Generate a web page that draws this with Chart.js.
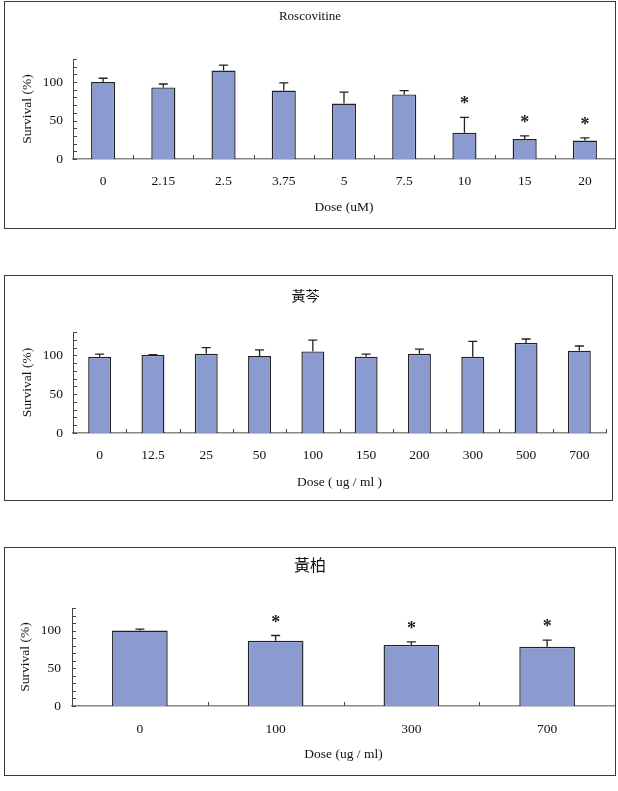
<!DOCTYPE html>
<html>
<head>
<meta charset="utf-8">
<script src="https://cdn.jsdelivr.net/npm/chart.js@4.4.1/dist/chart.umd.min.js"></script>
<style>
  body { margin: 0; background: #fff; width: 618px; height: 791px; position: relative; overflow: hidden; }
  .panel { position: absolute; border: 1.5px solid #3a3a3a; box-sizing: border-box; }
  canvas { position: absolute; }
</style>
</head>
<body>
<div class="panel" style="left:4px;top:1px;width:612px;height:228px"></div>
<canvas id="chart1" width="610" height="226" style="left:5px;top:2px"></canvas>

<div class="panel" style="left:4px;top:275px;width:609px;height:226px"></div>
<canvas id="chart2" width="607" height="224" style="left:5px;top:276px"></canvas>

<div class="panel" style="left:4px;top:547px;width:612px;height:229px"></div>
<canvas id="chart3" width="610" height="227" style="left:5px;top:548px"></canvas>

<script>
// Roscovitine
const dose1 = ['0', '2.15', '2.5', '3.75', '5', '7.5', '10', '15', '20'];
const surv1 = [100, 93, 115, 89, 72, 84, 34, 26, 24];
const err1  = [5, 4.5, 7, 10, 15, 5, 20, 4, 3.5];
const star1 = [false, false, false, false, false, false, true, true, true];

// 黃芩
const dose2 = ['0', '12.5', '25', '50', '100', '150', '200', '300', '500', '700'];
const surv2 = [98, 100.5, 102, 99, 105, 98, 102, 98, 116, 106];
const err2  = [3.5, 0.5, 8, 8, 14.5, 3.5, 6, 20, 5, 6];
const star2 = [false, false, false, false, false, false, false, false, false, false];

// 黃柏
const dose3 = ['0', '100', '300', '700'];
const surv3 = [100, 86.5, 81, 78.5];
const err3  = [2, 7, 4, 9];
const star3 = [false, true, true, true];

const yTicks = { min: 0, max: 130, step: 10, labelEvery: 50 };

const serif = '"Liberation Serif", "Times New Roman", serif';
const cjk = '"Noto Sans CJK TC", "Noto Sans CJK SC", sans-serif';
const barFill = '#8b9bd0';
const ink = '#222';
const textColor = '#111';

// upper error bars + asterisks
const errorBars = {
    id: 'errorBars',
    afterDatasetsDraw(chart, args, opts) {
        const { ctx } = chart;
        const y = chart.scales.y;
        const values = chart.data.datasets[0].data;
        const meta = chart.getDatasetMeta(0);
        ctx.save();
        ctx.strokeStyle = ink;
        ctx.lineWidth = 1.3;
        meta.data.forEach((bar, i) => {
            const top = y.getPixelForValue(values[i] + opts.errors[i]);
            ctx.beginPath();
            ctx.moveTo(bar.x, bar.y);
            ctx.lineTo(bar.x, top);
            ctx.moveTo(bar.x - 4.5, top);
            ctx.lineTo(bar.x + 4.5, top);
            ctx.stroke();
            if (opts.stars[i]) {
                ctx.fillStyle = ink;
                ctx.font = 'bold 18px ' + serif;
                ctx.textAlign = 'center';
                ctx.textBaseline = 'alphabetic';
                ctx.fillText('*', bar.x, top - 8);
            }
        });
        ctx.restore();
    }
};

// Excel-style tick marks pointing into the plot
const insideTicks = {
    id: 'insideTicks',
    afterDraw(chart) {
        const { ctx } = chart;
        const { x, y } = chart.scales;
        ctx.save();
        ctx.strokeStyle = '#444';
        ctx.lineWidth = 1;
        ctx.beginPath();
        y.ticks.forEach(t => {
            const py = Math.round(y.getPixelForValue(t.value)) + 0.5;
            ctx.moveTo(y.right, py);
            ctx.lineTo(y.right + 4, py);
        });
        for (let i = 1; i <= chart.data.labels.length; i++) {
            const px = Math.round(x.getPixelForValue(i - 0.5)) + 0.5;
            ctx.moveTo(px, x.top);
            ctx.lineTo(px, x.top - 4);
        }
        ctx.stroke();
        ctx.restore();
    }
};

function makeChart(id, labels, values, errors, stars, L) {
    const ctx = document.getElementById(id).getContext('2d');
    return new Chart(ctx, {
        type: 'bar',
        data: {
            labels: labels,
            datasets: [{
                data: values,
                backgroundColor: barFill,
                borderColor: ink,
                borderWidth: 1.4,
                barPercentage: L.barPct,
                categoryPercentage: 1
            }]
        },
        options: {
            responsive: false,
            animation: false,
            layout: { padding: { top: 0, left: 0, right: L.padRight, bottom: 0 } },
            plugins: {
                legend: { display: false },
                tooltip: { enabled: false },
                title: {
                    display: true,
                    text: L.title,
                    color: textColor,
                    font: { family: L.titleFamily, size: L.titleSize, weight: 'normal', lineHeight: 1.2 },
                    padding: { top: L.titleTop, bottom: L.titleBottom }
                },
                errorBars: { errors: errors, stars: stars }
            },
            scales: {
                x: {
                    offset: true,
                    grid: { display: false, drawTicks: false },
                    border: { color: '#888', width: 1.6 },
                    ticks: {
                        color: textColor,
                        font: { family: serif, size: 13.5, lineHeight: 1.2 },
                        padding: L.xTickPad,
                        maxRotation: 0,
                        autoSkip: false
                    },
                    title: {
                        display: true,
                        text: L.xTitle,
                        color: textColor,
                        font: { family: serif, size: 13.5, lineHeight: 1.2 },
                        padding: { top: 0, bottom: L.xTitlePad }
                    },
                    afterFit: s => { s.height = L.xH; }
                },
                y: {
                    min: yTicks.min,
                    max: yTicks.max,
                    grid: { display: false, drawTicks: false },
                    border: { color: '#444', width: 1 },
                    ticks: {
                        stepSize: yTicks.step,
                        autoSkip: false,
                        color: textColor,
                        font: { family: serif, size: 13.5, lineHeight: 1.2 },
                        padding: L.yTickPad,
                        callback: v => (v % yTicks.labelEvery === 0 ? v : '')
                    },
                    title: {
                        display: true,
                        text: 'Survival (%)',
                        color: textColor,
                        font: { family: serif, size: 13.5, lineHeight: 1.2 },
                        padding: { top: L.yTitlePad, bottom: 0 }
                    },
                    afterFit: s => { s.width = L.yW; }
                }
            }
        },
        plugins: [errorBars, insideTicks]
    });
}

window.onload = () => {
    makeChart('chart1', dose1, surv1, err1, star1, {
        title: 'Roscovitine', titleFamily: serif, titleSize: 13, titleTop: 6.7, titleBottom: 34.7,
        xTitle: 'Dose (uM)', yW: 68, xH: 69, padRight: 0,
        xTickPad: 14.4, xTitlePad: 12.9, yTickPad: 10, yTitlePad: 14.8, barPct: 0.4
    });
    makeChart('chart2', dose2, surv2, err2, star2, {
        title: '黃芩', titleFamily: cjk, titleSize: 14, titleTop: 11.6, titleBottom: 27.6,
        xTitle: 'Dose ( ug / ml )', yW: 68, xH: 67, padRight: 6,
        xTickPad: 13.9, xTitlePad: 9.9, yTickPad: 10, yTitlePad: 14.8, barPct: 0.43
    });
    makeChart('chart3', dose3, surv3, err3, star3, {
        title: '黃柏', titleFamily: cjk, titleSize: 16, titleTop: 7.4, titleBottom: 33.4,
        xTitle: 'Dose (ug / ml)', yW: 67, xH: 69, padRight: 0,
        xTickPad: 14.9, xTitlePad: 12.9, yTickPad: 11, yTitlePad: 12.8, barPct: 0.41
    });
};
</script>
</body>
</html>
